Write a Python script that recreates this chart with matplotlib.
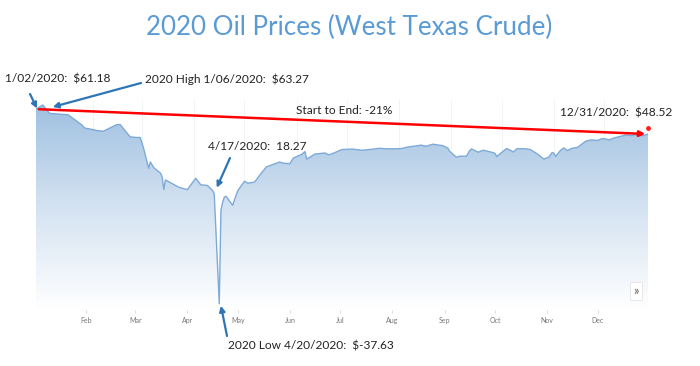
import numpy as np
import pandas as pd
import matplotlib
matplotlib.use('Agg')
import matplotlib.pyplot as plt
import matplotlib.dates as mdates
from matplotlib.patches import Polygon

# WTI daily closes, 2020
dates = ['2020-01-02', '2020-01-06', '2020-01-10', '2020-01-17', '2020-01-21', '2020-01-29',
         '2020-01-31', '2020-02-05', '2020-02-07', '2020-02-11', '2020-02-19', '2020-02-21',
         '2020-02-27', '2020-03-02', '2020-03-04', '2020-03-06', '2020-03-09', '2020-03-10',
         '2020-03-12', '2020-03-16', '2020-03-17', '2020-03-18', '2020-03-19', '2020-03-23',
         '2020-03-27', '2020-03-31', '2020-04-01', '2020-04-06', '2020-04-09', '2020-04-13',
         '2020-04-16', '2020-04-17', '2020-04-20', '2020-04-21', '2020-04-22', '2020-04-23',
         '2020-04-24', '2020-04-28', '2020-04-29', '2020-05-01', '2020-05-05', '2020-05-07',
         '2020-05-11', '2020-05-14', '2020-05-18', '2020-05-26', '2020-05-28', '2020-06-01',
         '2020-06-03', '2020-06-08', '2020-06-10', '2020-06-11', '2020-06-16', '2020-06-22',
         '2020-06-24', '2020-06-26', '2020-07-02', '2020-07-08', '2020-07-14', '2020-07-20',
         '2020-07-24', '2020-07-28', '2020-08-03', '2020-08-07', '2020-08-10', '2020-08-13',
         '2020-08-18', '2020-08-21', '2020-08-25', '2020-08-31', '2020-09-03', '2020-09-04',
         '2020-09-08', '2020-09-10', '2020-09-14', '2020-09-16', '2020-09-17', '2020-09-21',
         '2020-09-24', '2020-09-29', '2020-10-01', '2020-10-02', '2020-10-05', '2020-10-08',
         '2020-10-12', '2020-10-14', '2020-10-19', '2020-10-22', '2020-10-26', '2020-10-30',
         '2020-11-02', '2020-11-04', '2020-11-05', '2020-11-06', '2020-11-09', '2020-11-11',
         '2020-11-13', '2020-11-16', '2020-11-19', '2020-11-24', '2020-11-27', '2020-12-01',
         '2020-12-04', '2020-12-08', '2020-12-11', '2020-12-16', '2020-12-18', '2020-12-21',
         '2020-12-24', '2020-12-28', '2020-12-31']
prices = [61.18, 63.27, 59.04, 58.54, 58.34, 53.33,
          51.56, 50.75, 50.32, 49.94, 53.29, 53.38,
          47.09, 46.75, 46.78, 41.28, 31.13, 34.36,
          31.50, 28.70, 26.95, 20.37, 25.22, 23.36,
          21.51, 20.48, 20.31, 26.08, 22.76, 22.41,
          19.87, 18.27, -37.63, 10.01, 13.78, 16.50,
          16.94, 12.34, 15.06, 19.78, 24.56, 23.55,
          24.14, 27.56, 31.82, 34.35, 33.71, 33.50,
          36.30, 38.19, 39.60, 35.80, 38.38, 38.90,
          38.01, 38.49, 40.65, 40.90, 40.29, 40.81,
          41.29, 41.04, 41.01, 41.22, 41.94, 42.24,
          42.89, 42.34, 43.35, 42.61, 41.37, 39.77,
          36.76, 37.30, 37.26, 40.16, 40.97, 39.31,
          40.31, 39.29, 38.72, 37.05, 39.22, 41.19,
          39.43, 41.04, 41.06, 40.64, 38.56, 35.79,
          36.81, 39.15, 38.79, 37.14, 40.29, 41.45,
          40.13, 41.34, 41.74, 44.91, 45.53, 45.30,
          46.26, 45.60, 46.57, 47.62, 48.10, 47.74,
          48.23, 47.62, 48.52]

labels = ['1/02/2020:  $61.18', '2020 High 1/06/2020:  $63.27', '4/17/2020:  18.27',
          '2020 Low 4/20/2020:  $-37.63', 'Start to End: -21%', '12/31/2020:  $48.52']

x = pd.to_datetime(dates)
xn = mdates.date2num(x)
y = np.array(prices)

fig = plt.figure(figsize=(7, 3.66), dpi=100)
plt.rcParams['font.family'] = ['Lato', 'DejaVu Sans']

ax = fig.add_axes([36 / 700, 1 - 310 / 366, 612 / 700, 210 / 366])
ymin, ymax = -40.8, 65.8
ax.set_xlim(xn[0], xn[-1])
ax.set_ylim(ymin, ymax)

# gradient fill under the line
grad = np.linspace(0, 1, 256).reshape(-1, 1)
img = ax.imshow(grad, aspect='auto', extent=[xn[0], xn[-1], ymin, ymax], origin='lower',
                cmap=matplotlib.colors.LinearSegmentedColormap.from_list(
                    'g', ['#ffffff', '#d3e2f1', '#9dbfe0']), zorder=1)
poly = Polygon(np.column_stack([np.r_[xn[0], xn, xn[-1]], np.r_[ymin, y, ymin]]),
               closed=True, transform=ax.transData, facecolor='none', edgecolor='none')
ax.add_patch(poly)
img.set_clip_path(poly)
ax.plot(xn, y, color='#7eaad8', lw=1.0, zorder=3)

for s in ax.spines.values():
    s.set_visible(False)
ax.set_yticks([])
months = pd.date_range('2020-02-01', '2020-12-01', freq='MS')
ax.set_xticks(mdates.date2num(months))
ax.set_xticklabels([m.strftime('%b') for m in months])
ax.tick_params(axis='x', length=2, width=0.5, color='#cccccc', labelsize=5, labelcolor='#777777', pad=3)
for m in mdates.date2num(months):
    ax.axvline(m + 4, color='#eef2f6', lw=0.6, zorder=0)

# start to end arrow
ax.annotate('', xy=(xn[-1], y[-1]), xytext=(xn[0], y[0]),
            arrowprops=dict(arrowstyle='-|>', color='#ff0000', lw=1.8, mutation_scale=8),
            zorder=5, annotation_clip=False)
ax.plot([xn[-1]], [y[-1] + 3], marker='o', ms=2.5, color='#ff2020', zorder=5, clip_on=False)

aprops = dict(arrowstyle='-|>', color='#2e75b6', lw=1.6, mutation_scale=8, shrinkA=0, shrinkB=0)


def arrow(tip, px, py):
    # tail given in pixels from the top-left corner
    ax.annotate('', xy=tip, xytext=(px, 366 - py), textcoords='figure pixels',
                arrowprops=dict(aprops), annotation_clip=False, zorder=6)


def ftext(px, py, s, **kw):
    fig.text(px / 700, 1 - py / 366, s, **kw)


arrow((xn[0] + 0.6, y[0] + 0.3), 30, 94)
arrow((xn[1] + 6, y[1] - 1), 141, 83)
arrow((xn[31] + 1.5, y[31] + 3), 230, 158)
arrow((xn[32] + 1, y[32] - 1), 227, 336)

tkw = dict(fontsize=8.6, color='#222222', ha='left', va='center')
ftext(5, 79, labels[0], **tkw)
ftext(145, 79, labels[1], **tkw)
ftext(208, 146, labels[2], **tkw)
ftext(228, 346, labels[3], **tkw)
ftext(296, 110, labels[4], **tkw)
ftext(560, 113, labels[5], **tkw)
ftext(349, 27, '2020 Oil Prices (West Texas Crude)', ha='center', va='center',
      fontsize=18.7, color='#5b9bd5')
ftext(636, 291, '\u00bb', ha='center', va='center', fontsize=9, color='#555555',
      bbox=dict(boxstyle='square,pad=0.25', fc='white', ec='#e4e4e4', lw=0.6))

fig.savefig('out.png', dpi=100)
